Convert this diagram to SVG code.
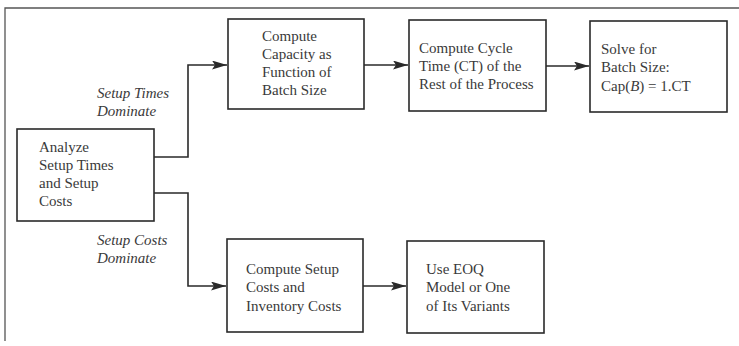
<svg xmlns="http://www.w3.org/2000/svg" width="739" height="346" viewBox="0 0 739 346">
<style>
.box{fill:#fff;stroke:#2a2a2a;stroke-width:1.6}
.t{font-family:"Liberation Serif","Times New Roman",serif;font-size:15px;fill:#3a3a3a}
.lbl{font-family:"Liberation Serif","Times New Roman",serif;font-size:15px;font-style:italic;fill:#3a3a3a}
.c{fill:none;stroke:#2a2a2a;stroke-width:1.6}
.frame{fill:none;stroke:#555;stroke-width:1.3}
</style>
<defs>
<marker id="ah" viewBox="0 0 15 9" refX="15" refY="4.5" markerWidth="15" markerHeight="9" markerUnits="userSpaceOnUse" orient="auto">
<path d="M0,0 L15,4.5 L0,9 L3,4.5 Z" fill="#2a2a2a"/>
</marker>
</defs>
<rect width="739" height="346" fill="#fff"/>
<path class="frame" d="M5,341 L5,8 L739,8"/>
<g id="connectors">
<path class="c" d="M154,157 L188,157 L188,65 L227,65" marker-end="url(#ah)"/>
<path class="c" d="M154,193 L188,193 L188,286 L226,286" marker-end="url(#ah)"/>
<path class="c" d="M364,65 L408,65" marker-end="url(#ah)"/>
<path class="c" d="M546,66 L589,66" marker-end="url(#ah)"/>
<path class="c" d="M363,286 L406,286" marker-end="url(#ah)"/>
<text class="lbl" x="97" y="98">Setup Times</text>
<text class="lbl" x="97" y="116">Dominate</text>
<text class="lbl" x="97" y="245">Setup Costs</text>
<text class="lbl" x="97" y="263">Dominate</text>
</g>
<g id="analyze">
<rect class="box" x="17" y="129" width="137" height="92"/>
<text class="t" x="39" y="152">Analyze</text>
<text class="t" x="39" y="170">Setup Times</text>
<text class="t" x="39" y="188">and Setup</text>
<text class="t" x="39" y="206">Costs</text>
</g>
<g id="capacity">
<rect class="box" x="228" y="19" width="136" height="90"/>
<text class="t" x="262" y="41">Compute</text>
<text class="t" x="262" y="59">Capacity as</text>
<text class="t" x="262" y="77">Function of</text>
<text class="t" x="262" y="95">Batch Size</text>
</g>
<g id="cycle">
<rect class="box" x="409" y="20" width="137" height="91"/>
<text class="t" x="419" y="53">Compute Cycle</text>
<text class="t" x="419" y="71">Time (CT) of the</text>
<text class="t" x="419" y="89">Rest of the Process</text>
</g>
<g id="solve">
<rect class="box" x="590" y="21" width="137" height="91"/>
<text class="t" x="601" y="54">Solve for</text>
<text class="t" x="601" y="72">Batch Size:</text>
<text class="t" x="601" y="91">Cap(<tspan font-style="italic">B</tspan>) = 1.CT</text>
</g>
<g id="setupcosts">
<rect class="box" x="227" y="239" width="136" height="93"/>
<text class="t" x="246" y="274">Compute Setup</text>
<text class="t" x="246" y="292">Costs and</text>
<text class="t" x="246" y="311">Inventory Costs</text>
</g>
<g id="eoq">
<rect class="box" x="407" y="241" width="137" height="92"/>
<text class="t" x="426" y="274">Use EOQ</text>
<text class="t" x="426" y="292">Model or One</text>
<text class="t" x="426" y="311">of Its Variants</text>
</g>
</svg>
